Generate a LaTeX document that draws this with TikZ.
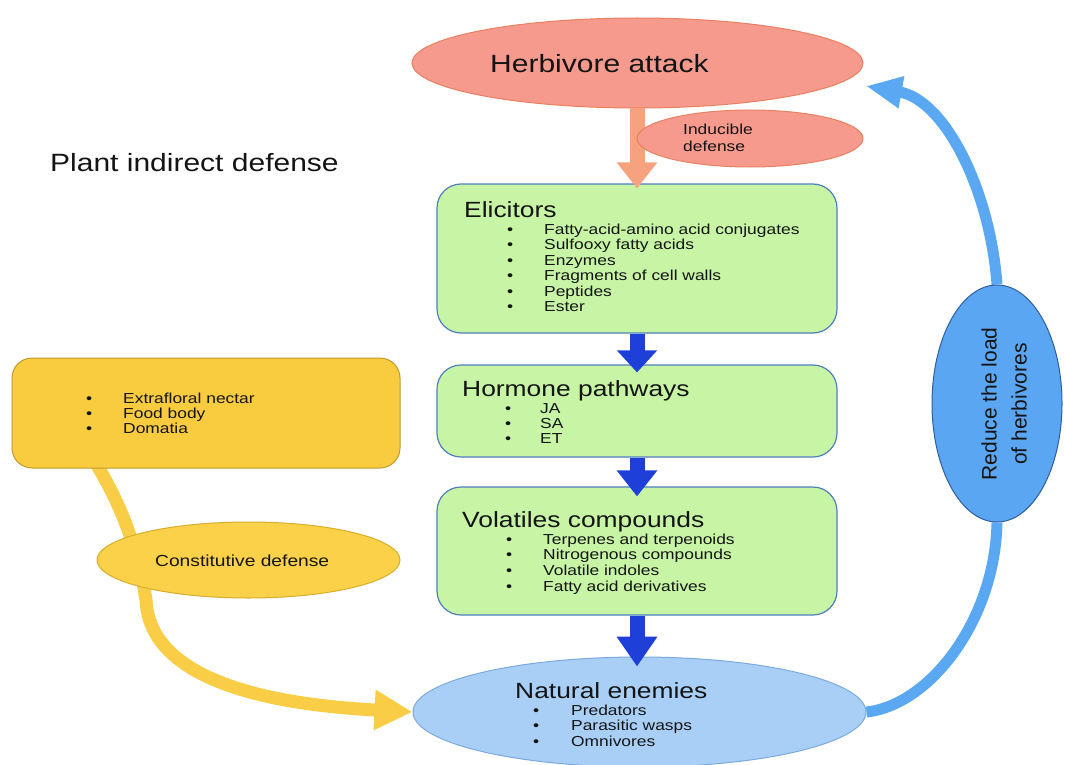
\documentclass[tikz,border=0pt]{standalone}
\usepackage{fontspec}
\setmainfont{Liberation Sans}[FakeStretch=1.2]
\newfontfamily\plainsans{Liberation Sans}
\usetikzlibrary{shapes.geometric,arrows.meta,positioning,backgrounds}

\definecolor{ink}{HTML}{141414}
\definecolor{herbfill}{HTML}{F79A8E}
\definecolor{herbline}{HTML}{E9805F}
\definecolor{attackarrow}{HTML}{F6A27E}
\definecolor{boxfill}{HTML}{C7F5A5}
\definecolor{boxline}{HTML}{4F7FBF}
\definecolor{pathblue}{HTML}{1E40D8}
\definecolor{enemyfill}{HTML}{A9CFF7}
\definecolor{enemyline}{HTML}{7BAAE0}
\definecolor{nectfill}{HTML}{F9CB3F}
\definecolor{nectline}{HTML}{BF9A2E}
\definecolor{constfill}{HTML}{FAD149}
\definecolor{constline}{HTML}{D8AE2C}
\definecolor{yellowarrow}{HTML}{F9CD45}
\definecolor{reducefill}{HTML}{5BA6F2}
\definecolor{reduceline}{HTML}{2E5E9E}
\definecolor{loopblue}{HTML}{5AA8F2}

\tikzset{
    herbshape/.style={ellipse, draw=herbline, fill=herbfill, line width=1pt, inner sep=0pt},
    greenbox/.style={rectangle, rounded corners=24pt, draw=boxline, fill=boxfill, line width=1.2pt, minimum width=400pt, inner sep=0pt},
    big/.style={anchor=base west, inner sep=0pt, text=ink, font=\fontsize{25}{30}\selectfont},
    title/.style={anchor=base west, inner sep=0pt, text=ink, font=\fontsize{22}{26}\selectfont},
    item/.style={anchor=base west, inner sep=0pt, text=ink, font=\fontsize{14.5}{16}\selectfont},
    fat/.style={line width=15pt, draw=pathblue, -{Triangle[length=22pt,width=39pt]}},
    yellowflow/.style={line width=13pt, draw=yellowarrow, -{Triangle[length=38pt,width=38pt]}},
    blueflow/.style={line width=11pt, draw=loopblue}
}

\begin{document}
\begin{tikzpicture}[x=1pt,y=-1pt]
    \useasboundingbox (0,0) rectangle (1065,765);

    % attack and title
    \node[herbshape, minimum width=451pt, minimum height=90pt] (herb) at (637.5,63) {};
    \node[big] (herbtxt) at (490,73) {Herbivore attack};
    \node[big] (plant) at (50,171) {Plant indirect defense};

    % the three steps
    \node[greenbox, minimum height=149pt] (elic) at (637,258.5) {};
    \node[greenbox, minimum height=92pt] (horm) at (637,411) {};
    \node[greenbox, minimum height=128pt] (vol) at (637,551) {};

    \draw[fat, draw=attackarrow, shorten >=-5pt, -{Triangle[length=26pt,width=39pt]}] (elic.north |- herb.south) -- (elic.north);
    \node[herbshape, minimum width=226pt, minimum height=57pt] (induc) at (750,138.5) {};
    \node[item] (induc1) at (683,135) {Inducible};
    \node[item] (induc2) at (683,151) {defense};

    \node[title] (elictitle) at (464,217.5) {Elicitors};
    \foreach \txt [count=\k from 0] in {Fatty-acid-amino acid conjugates, Sulfooxy fatty acids, Enzymes, Fragments of cell walls, Peptides, Ester} {
        \node[item] (eli\k) at (544, 234+15.5*\k) {\txt};
        \node[item] (elib\k) at (507, 234+15.5*\k) {\textbullet};
    }

    \node[title] (hormtitle) at (462,396) {Hormone pathways};
    \foreach \txt [count=\k from 0] in {JA, SA, ET} {
        \node[item] (hor\k) at (540, 413+15*\k) {\txt};
        \node[item] (horb\k) at (505, 413+15*\k) {\textbullet};
    }

    \node[title] (voltitle) at (462,527) {Volatiles compounds};
    \foreach \txt [count=\k from 0] in {Terpenes and terpenoids, Nitrogenous compounds, Volatile indoles, Fatty acid derivatives} {
        \node[item] (vo\k) at (543, 544+15.7*\k) {\txt};
        \node[item] (vob\k) at (506, 544+15.7*\k) {\textbullet};
    }

    % natural enemies
    \node[ellipse, draw=enemyline, fill=enemyfill, line width=1pt, inner sep=0pt, minimum width=453pt, minimum height=110pt] (ne) at (639.5,712) {};
    \node[title] (netitle) at (515,698) {Natural enemies};
    \foreach \txt [count=\k from 0] in {Predators, Parasitic wasps, Omnivores} {
        \node[item] (nen\k) at (571, 715+15.5*\k) {\txt};
        \node[item] (nenb\k) at (533, 715+15.5*\k) {\textbullet};
    }

    % constitutive side
    \node[rectangle, rounded corners=20pt, draw=nectline, fill=nectfill, line width=1pt, minimum width=388pt, minimum height=110pt] (nect) at (206,413) {};
    \foreach \txt [count=\k from 0] in {Extrafloral nectar, Food body, Domatia} {
        \node[item] (nec\k) at (123, 403+15*\k) {\txt};
        \node[item] (necb\k) at (86, 403+15*\k) {\textbullet};
    }
    \node[ellipse, draw=constline, fill=constfill, line width=1pt, inner sep=0pt, minimum width=303pt, minimum height=76pt] (const) at (248.5,560) {};
    \node[anchor=base west, inner sep=0pt, text=ink, font=\fontsize{16}{19}\selectfont] (consttxt) at (155,566) {Constitutive defense};

    % reducing loop
    \node[ellipse, draw=reduceline, fill=reducefill, line width=1pt, inner sep=0pt, minimum width=130pt, minimum height=237pt] (red) at (997,403.5) {};
    \node[rotate=90, align=center, inner sep=0pt, text=ink, font=\plainsans\fontsize{21}{30}\selectfont] (redtxt) at (1004,404) {Reduce the load\\of herbivores};

    % pathway arrows
    \draw[fat, shorten >=-8pt] (elic.south) -- (horm.north);
    \draw[fat, shorten >=-10pt, -{Triangle[length=26pt,width=39pt]}] (horm.south) -- (vol.north);
    \draw[fat, shorten >=-10pt, -{Triangle[length=30pt,width=39pt]}] (vol.south) -- (vol.south |- ne.north);

    \begin{scope}[on background layer]
        \coordinate (nectfoot) at (95,462);
        \draw[yellowflow] (nectfoot) .. controls (125,510) and (140,560) .. (146,600) .. controls (150,690) and (300,706) .. (ne.west);
        \draw[blueflow] (ne.east) .. controls (930,705) and (995,620) .. (red.south);
        \coordinate (herbtip) at (866,86);
        \draw[blueflow, -{Triangle[length=36pt,width=30pt]}] (red.north) .. controls (990,190) and (945,100) .. (herbtip);
    \end{scope}
\end{tikzpicture}
\end{document}
